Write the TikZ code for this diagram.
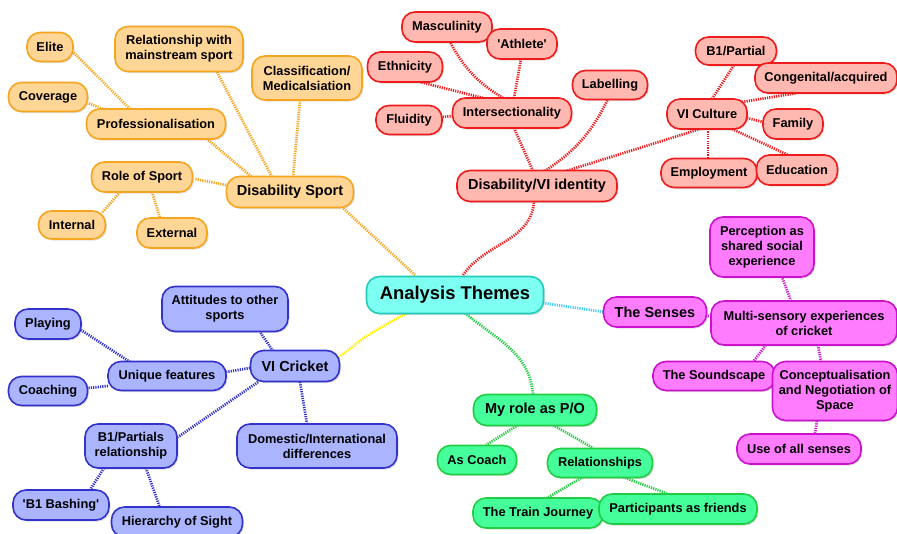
\documentclass[tikz,border=0pt]{standalone}
\usepackage{fontspec}
\setmainfont{Liberation Sans}
\usetikzlibrary{shadows,backgrounds}
\definecolor{oF}{HTML}{FFD696}\definecolor{oD}{HTML}{F6A51E}
\definecolor{rF}{HTML}{FFB9B0}\definecolor{rD}{HTML}{EE1C1C}
\definecolor{bF}{HTML}{AAB4FF}\definecolor{bD}{HTML}{3333CC}
\definecolor{mF}{HTML}{FF7CFF}\definecolor{mD}{HTML}{CC11CC}
\definecolor{gF}{HTML}{44FF9A}\definecolor{gD}{HTML}{22CC44}
\definecolor{cF}{HTML}{7DFFF2}\definecolor{cD}{HTML}{22CCBB}
\definecolor{yL}{HTML}{FFEE00}\definecolor{sL}{HTML}{44CCFF}
\newcommand\fleaf{\fontsize{12.8}{15}\selectfont\bfseries}
\newcommand\fmid{\fontsize{14.5}{17}\selectfont\bfseries}
\newcommand\froot{\fontsize{18.4}{21}\selectfont\bfseries}
\tikzset{
 base/.style={rounded corners=13pt, line width=1.6pt, align=center, inner sep=0pt, font=\fleaf,
   drop shadow={shadow xshift=1.5pt,shadow yshift=-1.5pt,opacity=0.25}},
 big/.style={font=\fmid},
 sz/.style 2 args={minimum width=#1pt, minimum height=#2pt},
 onode/.style={base, draw=oD, fill=oF},
 rnode/.style={base, draw=rD, fill=rF},
 bnode/.style={base, draw=bD, fill=bF},
 mnode/.style={base, draw=mD, fill=mF},
 gnode/.style={base, draw=gD, fill=gF},
 lk/.style={line width=2.7pt, dash pattern=on 1.2pt off 1.1pt},
 olk/.style={lk, draw=oD}, rlk/.style={lk, draw=rD}, blk/.style={lk, draw=bD},
 mlk/.style={lk, draw=mD}, glk/.style={lk, draw=gD},
}
\begin{document}
\begin{tikzpicture}[x=1pt,y=1pt]
\useasboundingbox (0,0) rectangle (897,-533);
% root
\node[base, draw=cD, fill=cF, font=\froot, sz={177}{37}] (root) at (455,-295) {Analysis Themes};
% orange
\node[onode, sz={46}{29}] (elite) at (50,-47) {Elite};
\node[onode, sz={128}{45}] (rel) at (179,-49) {Relationship with\\mainstream sport};
\node[onode, sz={110}{44}] (cls) at (307,-78) {Classification/\\Medicalsiation};
\node[onode, sz={79}{29}] (cov) at (48,-97) {Coverage};
\node[onode, sz={139}{30}] (prof) at (156,-124) {Professionalisation};
\node[onode, sz={101}{30}] (role) at (142,-177) {Role of Sport};
\node[onode, big, sz={127}{31}] (ds) at (290,-192) {Disability Sport};
\node[onode, sz={67}{28}] (int) at (72,-225) {Internal};
\node[onode, sz={70}{30}] (ext) at (172,-233) {External};
% red
\node[rnode, sz={90}{30}] (masc) at (447,-27) {Masculinity};
\node[rnode, sz={70}{30}] (ath) at (522,-44) {\textquotesingle Athlete\textquotesingle};
\node[rnode, sz={75}{30}] (eth) at (405,-67) {Ethnicity};
\node[rnode, sz={75}{29}] (lab) at (610,-85) {Labelling};
\node[rnode, sz={66}{29}] (flu) at (409,-120) {Fluidity};
\node[rnode, sz={119}{30}] (inter) at (512,-113) {Intersectionality};
\node[rnode, big, sz={160}{31}] (id) at (537,-186) {Disability/VI identity};
\node[rnode, sz={81}{28}] (b1p) at (736,-51) {B1/Partial};
\node[rnode, sz={142}{30}] (cong) at (826,-78) {Congenital/acquired};
\node[rnode, sz={80}{30}] (vic) at (707,-114) {VI Culture};
\node[rnode, sz={60}{30}] (fam) at (793,-124) {Family};
\node[rnode, sz={96}{29}] (emp) at (709,-173) {Employment};
\node[rnode, sz={81}{30}] (edu) at (797,-170) {Education};
% magenta
\node[mnode, sz={104}{60}] (perc) at (762,-247) {Perception as\\shared social\\experience};
\node[mnode, big, sz={103}{30}] (sen) at (655,-312) {The Senses};
\node[mnode, sz={186}{44}] (multi) at (804,-323) {Multi-sensory experiences\\of cricket};
\node[mnode, sz={122}{29}] (sound) at (714,-376) {The Soundscape};
\node[mnode, sz={125}{59}] (conc) at (835,-391) {Conceptualisation\\and Negotiation of\\Space};
\node[mnode, sz={124}{30}] (use) at (799,-449) {Use of all senses};
% blue
\node[bnode, sz={126}{45}] (att) at (225,-309) {Attitudes to other\\sports};
\node[bnode, sz={66}{30}] (play) at (48,-324) {Playing};
\node[bnode, big, sz={89}{31}] (vc) at (295,-366) {VI Cricket};
\node[bnode, sz={118}{29}] (uf) at (167,-376) {Unique features};
\node[bnode, sz={79}{29}] (coach) at (48,-391) {Coaching};
\node[bnode, sz={92}{44}] (b1r) at (131,-446) {B1/Partials\\relationship};
\node[bnode, sz={160}{44}] (dom) at (317,-446) {Domestic/International\\differences};
\node[bnode, sz={96}{30}] (bash) at (61,-505) {\textquotesingle B1 Bashing\textquotesingle};
\node[bnode, sz={131}{30}] (hier) at (177,-522) {Hierarchy of Sight};
% green
\node[gnode, big, sz={123}{31}] (myrole) at (535,-410) {My role as P/O};
\node[gnode, sz={79}{29}] (asc) at (477,-460) {As Coach};
\node[gnode, sz={105}{29}] (rels) at (600,-463) {Relationships};
\node[gnode, sz={130}{30}] (train) at (538,-513) {The Train Journey};
\node[gnode, sz={158}{30}] (part) at (678,-509) {Participants as friends};
\begin{scope}[on background layer]
% orange
\draw[olk] ([shift={(-40,20)}]root.center) -- ([shift={(53,-16)}]ds.center);
\draw[olk] ([shift={(-37,14)}]ds.center) -- ([shift={(51,-15)}]prof.center);
\draw[olk] ([shift={(-18,15)}]ds.center) -- ([shift={(38,-23)}]rel.center);
\draw[olk] ([shift={(3,15)}]ds.center) -- ([shift={(-7,-22)}]cls.center);
\draw[olk] ([shift={(-64,7)}]ds.center) -- ([shift={(53,-2)}]role.center);
\draw[olk] ([shift={(-26,15)}]prof.center) -- ([shift={(23,-5)}]elite.center);
\draw[olk] ([shift={(-51,14)}]prof.center) -- ([shift={(40,-6)}]cov.center);
\draw[olk] ([shift={(-22,-15)}]role.center) -- ([shift={(30,12)}]int.center);
\draw[olk] ([shift={(10,-15)}]role.center) -- ([shift={(-12,15)}]ext.center);
% red
\draw[rlk] ([shift={(8,20)}]root.center) to[out=55,in=-95] ([shift={(-3,-16)}]id.center);
\draw[rlk] ([shift={(-4,15)}]id.center) -- ([shift={(2,-15)}]inter.center);
\draw[rlk] ([shift={(8,15)}]id.center) to[bend right=15] ([shift={(-2,-14)}]lab.center);
\draw[rlk] ([shift={(26,14)}]id.center) -- ([shift={(-7,-15)}]vic.center);
\draw[rlk] ([shift={(-9,15)}]inter.center) to[bend left=15] ([shift={(3,-15)}]masc.center);
\draw[rlk] ([shift={(2,15)}]inter.center) -- ([shift={(-1,-15)}]ath.center);
\draw[rlk] ([shift={(-29,15)}]inter.center) -- ([shift={(15,-15)}]eth.center);
\draw[rlk] ([shift={(-59,-3)}]inter.center) -- ([shift={(33,3)}]flu.center);
\draw[rlk] ([shift={(5,15)}]vic.center) -- ([shift={(-2,-14)}]b1p.center);
\draw[rlk] ([shift={(35,12)}]vic.center) -- ([shift={(-29,-15)}]cong.center);
\draw[rlk] ([shift={(40,-4)}]vic.center) -- ([shift={(-30,2)}]fam.center);
\draw[rlk] ([shift={(1,-15)}]vic.center) -- ([shift={(-1,15)}]emp.center);
\draw[rlk] ([shift={(23,-14)}]vic.center) -- ([shift={(-9,15)}]edu.center);
% blue
\draw[lk, draw=yL] ([shift={(-48,-18)}]root.center) to[bend right=6] ([shift={(43,8)}]vc.center);
\draw[blk] ([shift={(-22,15)}]vc.center) -- ([shift={(35,-23)}]att.center);
\draw[blk] ([shift={(-45,-2)}]vc.center) -- ([shift={(59,4)}]uf.center);
\draw[blk] ([shift={(-37,-16)}]vc.center) -- ([shift={(47,9)}]b1r.center);
\draw[blk] ([shift={(5,-16)}]vc.center) -- ([shift={(-10,22)}]dom.center);
\draw[blk] ([shift={(-37,14)}]uf.center) -- ([shift={(33,-6)}]play.center);
\draw[blk] ([shift={(-59,-10)}]uf.center) -- ([shift={(40,3)}]coach.center);
\draw[blk] ([shift={(-27,-22)}]b1r.center) -- ([shift={(29,15)}]bash.center);
\draw[blk] ([shift={(15,-22)}]b1r.center) -- ([shift={(-17,14)}]hier.center);
% magenta
\draw[lk, draw=sL] ([shift={(88,-8)}]root.center) -- ([shift={(-51,0)}]sen.center);
\draw[mlk] (sen.center) -- (multi.center);
\draw[mlk] ([shift={(-13,22)}]multi.center) -- ([shift={(20,-30)}]perc.center);
\draw[mlk] ([shift={(-38,-22)}]multi.center) -- ([shift={(39,14)}]sound.center);
\draw[mlk] ([shift={(14,-22)}]multi.center) -- ([shift={(-14,29)}]conc.center);
\draw[mlk] ([shift={(-18,-30)}]conc.center) -- ([shift={(16,15)}]use.center);
% green
\draw[glk] ([shift={(10,-18)}]root.center) to[out=-40,in=95] ([shift={(-2,16)}]myrole.center);
\draw[glk] ([shift={(-17,-15)}]myrole.center) -- ([shift={(9,15)}]asc.center);
\draw[glk] ([shift={(18,-15)}]myrole.center) -- ([shift={(-7,15)}]rels.center);
\draw[glk] ([shift={(-17,-14)}]rels.center) -- ([shift={(9,15)}]train.center);
\draw[glk] ([shift={(23,-14)}]rels.center) -- ([shift={(-10,15)}]part.center);
\end{scope}
\end{tikzpicture}
\end{document}
